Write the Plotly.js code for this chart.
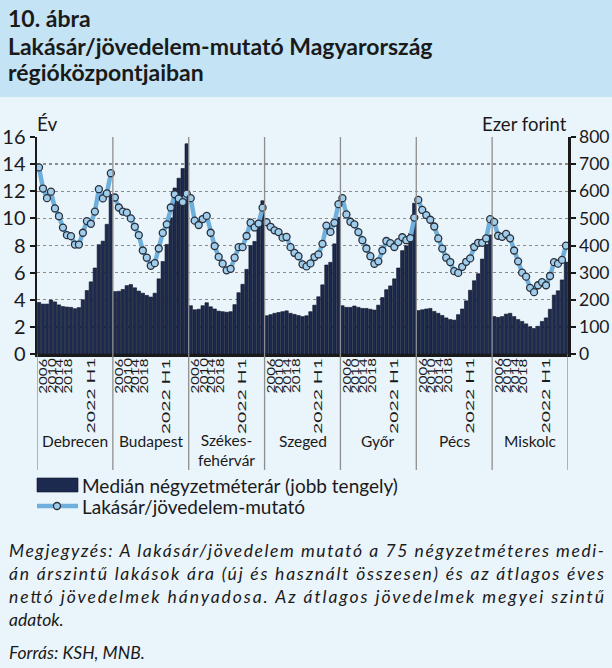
<!DOCTYPE html>
<html><head><meta charset="utf-8">
<script src="https://cdn.plot.ly/plotly-3.0.1.min.js"></script>
<style>html,body{margin:0;padding:0;background:#EAF4FB;} #chart{width:612px;height:668px;}</style>
</head><body><div id="chart"></div>
<script>
// ---- data ----
const cities = ['Debrecen', 'Budapest', 'Székes-<br>fehérvár', 'Szeged', 'Győr', 'Pécs', 'Miskolc'];
const periods = ['2004','2005','2006','2007','2008','2009','2010','2011','2012','2013','2014','2015','2016','2017','2018','2019','2020','2021','2022 H1'];
const tickLabels = ['2006', '2010', '2014', '2018', '2022 H1'];

// Lakásár/jövedelem-mutató (év)
const ratioDebrecen = [13.76, 12.2, 11.49, 11.97, 10.73, 10.16, 9.32, 8.76, 8.69, 8.07, 8.07, 8.94, 9.8, 9.6, 10.5, 12.15, 11.47, 11.84, 13.33];
const ratioBudapest = [11.54, 10.8, 10.5, 10.42, 10.0, 9.38, 8.76, 7.63, 7.1, 6.5, 6.7, 7.78, 8.93, 9.56, 10.8, 11.78, 11.46, 11.2, 11.82];
const ratioSzekesfehervar = [11.49, 9.83, 9.51, 9.95, 10.18, 8.94, 7.96, 7.16, 6.66, 6.17, 6.28, 7.1, 7.88, 7.88, 8.7, 9.68, 9.33, 9.62, 10.79];
const ratioSzeged = [9.72, 9.38, 9.12, 8.99, 8.58, 8.63, 7.88, 7.45, 7.21, 6.61, 6.46, 6.68, 7.15, 7.34, 8.12, 9.47, 9.0, 9.67, 11.05];
const ratioGyor = [11.49, 10.29, 9.75, 9.56, 8.99, 8.39, 7.78, 7.21, 6.65, 6.83, 7.63, 8.33, 8.17, 7.89, 8.25, 8.61, 8.39, 8.54, 10.06];
const ratioPecs = [11.36, 10.62, 10.24, 9.9, 9.4, 8.52, 7.77, 7.1, 6.78, 6.11, 5.98, 6.43, 6.8, 7.05, 7.89, 8.2, 8.2, 8.52, 9.94];
const ratioMiskolc = [9.74, 8.72, 8.64, 8.85, 8.53, 7.63, 6.83, 6.0, 5.7, 4.88, 4.56, 5.07, 5.3, 5.07, 5.75, 6.77, 6.66, 6.94, 7.99];

// Medián négyzetméterár (ezer forint)
const priceDebrecen = [190, 184, 184, 199, 192, 181, 175, 173, 172, 167, 171, 200, 234, 266, 317, 403, 416, 478, 588];
const priceBudapest = [230, 231, 238, 252, 256, 244, 232, 224, 216, 210, 224, 277, 341, 404, 502, 612, 648, 684, 775];
const priceSzekesfehervar = [178, 163, 165, 178, 189, 174, 166, 158, 156, 154, 156, 182, 226, 257, 312, 400, 415, 490, 565];
const priceSzeged = [141, 145, 150, 153, 156, 159, 150, 146, 142, 138, 141, 156, 180, 211, 255, 328, 338, 406, 504];
const priceGyor = [178, 172, 172, 177, 172, 168, 168, 165, 162, 180, 208, 237, 251, 277, 317, 381, 399, 445, 556];
const pricePecs = [160, 163, 166, 168, 157, 150, 142, 133, 127, 125, 145, 166, 196, 235, 270, 296, 350, 404, 439];
const priceMiskolc = [138, 135, 138, 147, 150, 138, 127, 120, 111, 100, 94, 102, 120, 133, 165, 217, 233, 273, 339];

const ratios = [ratioDebrecen, ratioBudapest, ratioSzekesfehervar, ratioSzeged, ratioGyor, ratioPecs, ratioMiskolc];
const prices = [priceDebrecen, priceBudapest, priceSzekesfehervar, priceSzeged, priceGyor, pricePecs, priceMiskolc];

// ---- layout helpers ----
const W = 612, H = 668, L = 37, R = 568, T = 137, B = 354;
const px = x => (x - L) / (R - L);
const py = y => (B - y) / (B - T);
const N = periods.length;
const labelOffsets = [1.5, 3.6, 5.5, 7.7, 13.3];   // visual placement of the cramped category labels
const barColor = '#1C2A4F';
const lineColor = '#6FAFDC';
const font = 'Lato, "Open Sans", sans-serif';

// ---- build traces ----
const bx = [], by = [], bt = [], lx = [], ly = [], lt = [];
prices.forEach((arr, g) => {
  arr.forEach((v, i) => { bx.push(g * N + i); by.push(v); bt.push(cities[g].replace('<br>', '') + ' ' + periods[i]); });
});
ratios.forEach((arr, g) => {
  arr.forEach((v, i) => { lx.push(g * N + i); ly.push(v); lt.push(cities[g].replace('<br>', '') + ' ' + periods[i]); });
  lx.push(g * N + N - 0.5); ly.push(null); lt.push('');
});

const traces = [
  { type: 'bar', x: bx, y: by, text: bt, hoverinfo: 'text+y', textposition: 'none', yaxis: 'y',
    name: 'Medián négyzetméterár (jobb tengely)', showlegend: false,
    marker: { color: barColor, line: { color: '#0d1225', width: 0.6 } } },
  { type: 'scatter', mode: 'lines+markers', x: lx, y: ly, text: lt, hoverinfo: 'text+y', yaxis: 'y2',
    name: 'Lakásár/jövedelem-mutató', showlegend: false, connectgaps: false,
    line: { color: lineColor, width: 4.5 },
    marker: { symbol: 'circle', size: 7, color: '#9FCDEB', line: { color: '#2a2f3a', width: 1.3 } } }
];

// ---- shapes ----
const shapes = [];
shapes.push({ type: 'rect', xref: 'paper', yref: 'paper', x0: px(0), x1: px(W), y0: py(97), y1: py(0),
  fillcolor: '#C4E4F5', line: { width: 0 }, layer: 'below' });
for (let g = 0; g <= cities.length; g++) {
  shapes.push({ type: 'line', xref: 'x', yref: 'paper', x0: g * N - 0.5, x1: g * N - 0.5,
    y0: py(470), y1: (g === 0 || g === cities.length) ? 0 : 1,
    line: { color: '#8E8E8E', width: 1.3 }, layer: 'above' });
}
// legend swatches
shapes.push({ type: 'rect', xref: 'paper', yref: 'paper', x0: px(37), x1: px(78), y0: py(492), y1: py(478),
  fillcolor: barColor, line: { color: '#0d1225', width: 0.6 } });
shapes.push({ type: 'line', xref: 'paper', yref: 'paper', x0: px(37), x1: px(78), y0: py(506), y1: py(506),
  line: { color: lineColor, width: 4.5 } });
shapes.push({ type: 'circle', xref: 'paper', yref: 'paper', x0: px(53.5), x1: px(60.5), y0: py(509.5), y1: py(502.5),
  fillcolor: '#9FCDEB', line: { color: '#2a2f3a', width: 1.3 } });

// ---- annotations ----
const ann = [];
const tfont = { family: font, size: 23, color: '#1a1a1a', weight: 'bold' };
[['<b>10. ábra</b>', 18], ['<b>Lakásár/jövedelem-mutató Magyarország</b>', 46], ['<b>régióközpontjaiban</b>', 72]].forEach(([t, y]) => {
  ann.push({ text: t, xref: 'paper', yref: 'paper', x: px(6), y: py(y), xanchor: 'left', yanchor: 'middle', showarrow: false, font: tfont });
});
ann.push({ text: 'Év', xref: 'paper', yref: 'paper', x: px(35), y: py(124), xanchor: 'left', yanchor: 'middle', showarrow: false,
  font: { family: font, size: 19, color: '#1a1a1a' } });
ann.push({ text: 'Ezer forint', xref: 'paper', yref: 'paper', x: px(569), y: py(124), xanchor: 'right', yanchor: 'middle', showarrow: false,
  font: { family: font, size: 18.5, color: '#1a1a1a' } });
cities.forEach((c, g) => {
  tickLabels.forEach((t, k) => {
    ann.push({ text: t, xref: 'x', yref: 'paper', x: g * N - 0.5 + labelOffsets[k], y: py(356), xanchor: 'center', yanchor: 'top',
      textangle: -90, align: 'right', showarrow: false, font: { family: font, size: 11.5, color: '#1a1a1a' } });
  });
  const two = c.indexOf('<br>') >= 0;
  ann.push({ text: c, xref: 'x', yref: 'paper', x: g * N + (N - 1) / 2, y: py(two ? 450 : 441), xanchor: 'center', yanchor: 'middle',
    showarrow: false, font: { family: font, size: 15.5, color: '#1a1a1a' }, align: 'center' });
});
ann.push({ text: 'Medián négyzetméterár (jobb tengely)', xref: 'paper', yref: 'paper', x: px(80), y: py(485), xanchor: 'left', yanchor: 'middle',
  showarrow: false, font: { family: font, size: 19, color: '#1a1a1a' } });
ann.push({ text: 'Lakásár/jövedelem-mutató', xref: 'paper', yref: 'paper', x: px(80), y: py(506), xanchor: 'left', yanchor: 'middle',
  showarrow: false, font: { family: font, size: 19, color: '#1a1a1a' } });
const notes = [
  ['Megjegyzés: A lakásár/jövedelem mutató a 75 négyzetméteres medi-', 550, true],
  ['án árszintű lakások ára (új és használt összesen) és az átlagos éves', 573, true],
  ['nettó jövedelmek hányadosa. Az átlagos jövedelmek megyei szintű', 596, true],
  ['adatok.', 619, false],
  ['Forrás: KSH, MNB.', 652, false]
];
notes.forEach(([t, y]) => {
  ann.push({ text: t, xref: 'paper', yref: 'paper', x: px(7), y: py(y), xanchor: 'left', yanchor: 'middle', align: 'left', showarrow: false,
    font: { family: font, size: 17.5, color: '#1a1a1a', style: 'italic' } });
});

const axisCommon = { showline: true, linecolor: '#1a1a1a', linewidth: 2.5, ticks: 'outside', ticklen: 5, tickwidth: 2,
  tickcolor: '#1a1a1a', zeroline: false, fixedrange: true };

const layout = {
  width: W, height: H,
  margin: { l: L, r: W - R, t: T, b: H - B, pad: 0 },
  paper_bgcolor: '#EAF4FB', plot_bgcolor: '#EAF4FB',
  showlegend: false, bargap: 0.14,
  xaxis: { range: [-0.5, cities.length * N - 0.5], showgrid: false, showline: true, linecolor: '#1a1a1a', linewidth: 2.5,
    showticklabels: false, ticks: '', zeroline: false, fixedrange: true },
  yaxis: Object.assign({}, axisCommon, { side: 'right', range: [0, 800], dtick: 100, showgrid: true,
    gridcolor: '#8A8A8A', griddash: 'dot', gridwidth: 1.4, tickfont: { family: font, size: 17.5, color: '#1a1a1a' } }),
  yaxis2: Object.assign({}, axisCommon, { side: 'left', overlaying: 'y', range: [0, 16], dtick: 2, showgrid: false,
    tickfont: { family: font, size: 20, color: '#1a1a1a' } }),
  shapes: shapes, annotations: ann
};

const justified = notes.filter(n => n[2]).map(n => n[0]);
Plotly.newPlot('chart', traces, layout, { displayModeBar: false, staticPlot: true }).then(gd => {
  gd.querySelectorAll('text.annotation-text').forEach(el => {
    const t = el.textContent;
    if (justified.includes(t)) {
      el.setAttribute('textLength', 595);
      el.setAttribute('lengthAdjust', 'spacing');
    } else if (tickLabels.includes(t)) {
      // the reference draws the rotated category labels stretched along their reading direction
      const nat = el.getComputedTextLength();
      const target = t.length > 4 ? 76 : 35;
      const s = target / nat;
      const x = parseFloat(el.getAttribute('x')) || 0;
      el.setAttribute('transform', 'translate(' + x + ',0) scale(' + s + ',1) translate(' + (-x) + ',0)');
    }
  });
});
</script></body></html>
